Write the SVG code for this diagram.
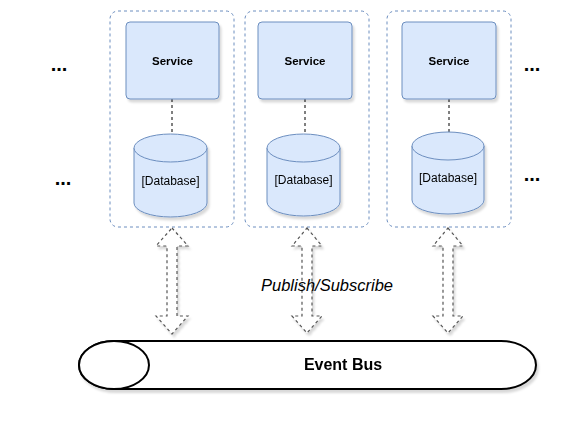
<svg xmlns="http://www.w3.org/2000/svg" width="581" height="434" viewBox="0 0 581 434">
<style>
.cont{fill:#ffffff;stroke:#6c8ebf;stroke-width:1;stroke-dasharray:3 3}
.svc{fill:#dae8fc;stroke:#6c8ebf;stroke-width:1}
.db{fill:#dae8fc;stroke:#6c8ebf;stroke-width:1}
.lnk{fill:none;stroke:#000000;stroke-width:1;stroke-dasharray:3 3}
.arr{fill:#ffffff;stroke:#555555;stroke-width:1.2;stroke-dasharray:3 3}
.bus{fill:#ffffff;stroke:#000000;stroke-width:2}
.t{font-family:"Liberation Sans",Arial,sans-serif;fill:#000000;text-anchor:middle}
.sv{font-size:11.5px;font-weight:bold}
.dbt{font-size:12px}
.dots{font-size:20px;font-weight:bold}
</style>
<defs>
<filter id="sh" x="-10%" y="-10%" width="130%" height="130%">
<feGaussianBlur in="SourceAlpha" stdDeviation="1.2"/>
<feOffset dx="2" dy="3" result="b"/>
<feFlood flood-color="#000000" flood-opacity="0.15"/>
<feComposite in2="b" operator="in"/>
<feMerge><feMergeNode/><feMergeNode in="SourceGraphic"/></feMerge>
</filter>
</defs>
<rect width="581" height="434" fill="#ffffff"/>
<g id="container1"><rect class="cont" x="110" y="11" width="124" height="216" rx="8"/></g>
<g id="container2"><rect class="cont" x="245" y="11" width="124" height="216" rx="8"/></g>
<g id="container3"><rect class="cont" x="387" y="11" width="124" height="216" rx="8"/></g>
<g id="connectors">
<line class="lnk" x1="172" y1="99" x2="172" y2="134"/>
<line class="lnk" x1="305" y1="99" x2="305" y2="134"/>
<line class="lnk" x1="449" y1="99" x2="449" y2="132"/>
<path class="arr" filter="url(#sh)" d="M172,228 L188,246 L177,246 L177,316 L188,316 L172,334 L156,316 L167,316 L167,246 L156,246 Z"/>
<path class="arr" filter="url(#sh)" d="M307,228 L322,246 L312,246 L312,316 L322,316 L307,333 L292,316 L302,316 L302,246 L292,246 Z"/>
<path class="arr" filter="url(#sh)" d="M448,228 L463,246 L453,246 L453,316 L463,316 L448,333 L433,316 L443,316 L443,246 L433,246 Z"/>
<text class="t" x="327" y="291" font-size="16.5" font-style="italic">Publish/Subscribe</text>
</g>
<g id="service1" filter="url(#sh)"><rect class="svc" x="126" y="22" width="93" height="77" rx="4"/><text class="t sv" x="172.5" y="65">Service</text></g>
<g id="service2" filter="url(#sh)"><rect class="svc" x="258" y="22" width="94" height="77" rx="4"/><text class="t sv" x="305" y="65">Service</text></g>
<g id="service3" filter="url(#sh)"><rect class="svc" x="402" y="22" width="94" height="77" rx="4"/><text class="t sv" x="449" y="65">Service</text></g>
<g id="database1" filter="url(#sh)">
<path class="db" d="M134,148 A36.5,14 0 0 1 207,148 L207,203 A36.5,14 0 0 1 134,203 Z"/>
<path class="db" fill="none" d="M134,148 A36.5,14 0 0 0 207,148"/>
<text class="t dbt" x="170.5" y="185">[Database]</text>
</g>
<g id="database2" filter="url(#sh)">
<path class="db" d="M267,148 A36.5,14 0 0 1 340,148 L340,202 A36.5,14 0 0 1 267,202 Z"/>
<path class="db" fill="none" d="M267,148 A36.5,14 0 0 0 340,148"/>
<text class="t dbt" x="303.5" y="184">[Database]</text>
</g>
<g id="database3" filter="url(#sh)">
<path class="db" d="M412,146 A36,14 0 0 1 484,146 L484,200 A36,14 0 0 1 412,200 Z"/>
<path class="db" fill="none" d="M412,146 A36,14 0 0 0 484,146"/>
<text class="t dbt" x="448" y="182">[Database]</text>
</g>
<g id="eventbus" filter="url(#sh)">
<path class="bus" d="M114,341 L501,341 A35,24 0 0 1 501,389 L114,389 A35,24 0 0 1 114,341 Z"/>
<ellipse class="bus" cx="114" cy="365" rx="35" ry="24"/>
<text class="t" x="343" y="370" font-size="16" font-weight="bold">Event Bus</text>
</g>
<g id="dots">
<text class="t dots" x="59" y="71">...</text>
<text class="t dots" x="63" y="185">...</text>
<text class="t dots" x="532" y="71">...</text>
<text class="t dots" x="532" y="181">...</text>
</g>
</svg>
